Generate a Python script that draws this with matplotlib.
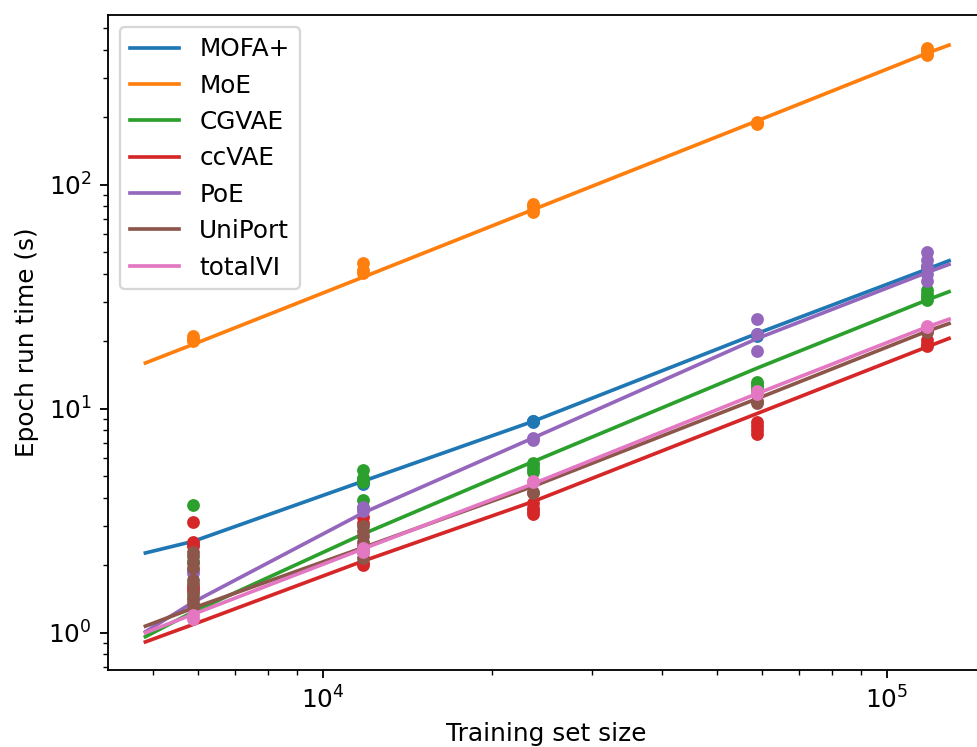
import matplotlib
matplotlib.use("Agg")
import matplotlib.pyplot as plt

plt.rcParams["font.size"] = 10.8

models = ["MOFA+", "MoE", "CGVAE", "ccVAE", "PoE", "UniPort", "totalVI"]

# training set sizes where the runs were timed
sizes = [5900, 11800, 23600, 59000, 118000]

# epoch run times (s) per model, one list per training set size
runs = {
    "MOFA+": [[2.5], [4.6, 4.75, 4.85], [8.7, 8.8, 8.85], [21.2, 21.6], [42.5, 43.5]],
    "MoE": [[20.0, 20.5, 21.2], [40.5, 41.5, 44.5], [75.5, 77, 80, 82],
            [186, 188, 190], [380, 390, 400, 408]],
    "CGVAE": [[3.7, 2.1, 1.45], [5.3, 4.9, 4.7, 3.9, 3.6], [5.2, 5.4, 5.6, 5.7],
              [12.1, 12.5, 12.9, 13.2], [30.5, 31.5, 32.5, 33.9]],
    "ccVAE": [[3.13, 2.55, 2.45, 1.6, 1.55], [3.27, 3.1, 2.05, 2.0], [3.4, 3.5, 3.6, 3.8],
              [7.7, 8.0, 8.4, 8.75], [19.0, 19.5, 20.2]],
    "PoE": [[1.9, 1.85], [3.65, 3.5], [7.25, 7.4], [25.2, 21.6, 18.1],
            [50, 46, 43, 40, 37]],
    "UniPort": [[2.3, 2.2, 2.05, 1.95, 1.72, 1.65, 1.5, 1.42, 1.36, 1.28],
                [3.0, 2.85, 2.7, 2.55, 2.45, 2.3, 2.15], [4.2, 4.25], [10.6, 10.8],
                [22.1, 22.5]],
    "totalVI": [[1.2, 1.15], [2.3, 2.35, 2.4], [4.7, 4.75], [12.0, 11.6], [23.2, 23.5]],
}

fit_x = [4850, 5900, 11800, 23600, 59000, 118000, 129000]
fits = {
    "MOFA+": [2.27, 2.56, 4.75, 8.78, 21.7, 42.0, 45.8],
    "MoE": [16.0, 19.4, 38.7, 77.4, 193, 387, 420],
    "CGVAE": [0.96, 1.24, 2.76, 5.8, 15.2, 30.6, 33.3],
    "ccVAE": [0.91, 1.09, 2.09, 3.85, 9.53, 18.9, 20.6],
    "PoE": [1.01, 1.37, 3.43, 7.4, 20.6, 40.6, 44.1],
    "UniPort": [1.07, 1.29, 2.4, 4.5, 11.1, 22.2, 24.0],
    "totalVI": [1.0, 1.21, 2.37, 4.62, 11.7, 23.2, 25.1],
}

fig = plt.figure(figsize=(977 / 165, 747 / 165), dpi=165)
ax = fig.add_axes([107.7 / 977, 1 - 670 / 747, (985 - 107.7) / 977, (670 - 15) / 747])

for i, m in enumerate(models):
    col = "C%d" % i
    xs = [s for s, grp in zip(sizes, runs[m]) for _ in grp]
    ys = [v for grp in runs[m] for v in grp]
    ax.scatter(xs, ys, s=21, color=col, zorder=2)
    ax.plot(fit_x, fits[m], color=col, lw=1.6, label=m)

ax.set_xscale("log")
ax.set_yscale("log")
ax.set_xlim(4158, 149400)
ax.set_ylim(0.6817, 572.4)
ax.set_xlabel("Training set size")
ax.set_ylabel("Epoch run time (s)")
ax.legend(loc="upper left")

fig.savefig("out.png", dpi=165)
